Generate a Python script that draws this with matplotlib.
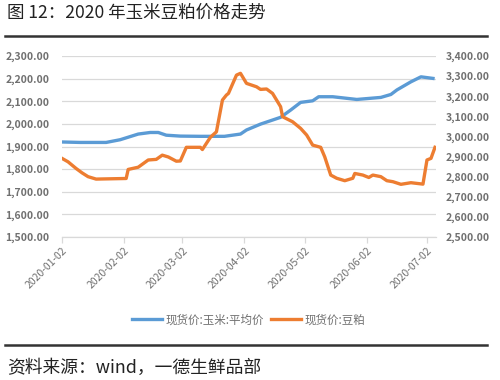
import matplotlib
matplotlib.use("Agg")
import matplotlib.pyplot as plt
import matplotlib.dates as mdates
import pandas as pd
import numpy as np

plt.rcParams['font.family'] = ['Noto Sans CJK SC', 'DejaVu Sans']

corn_dates = ["2020-01-02", "2020-01-11", "2020-01-24", "2020-01-31", "2020-02-09", "2020-02-15",
              "2020-02-19", "2020-02-23", "2020-03-01", "2020-03-11", "2020-03-23", "2020-03-31",
              "2020-04-03", "2020-04-10", "2020-04-16", "2020-04-20", "2020-04-25", "2020-04-30",
              "2020-05-06", "2020-05-09", "2020-05-16", "2020-05-28", "2020-06-09", "2020-06-14",
              "2020-06-17", "2020-06-24", "2020-06-29", "2020-07-05"]
corn_values = [1920, 1918, 1918, 1930, 1955, 1962, 1962, 1950, 1946, 1945, 1945, 1955,
               1973, 1999, 2017, 2029, 2061, 2095, 2102, 2120, 2120, 2108, 2117, 2130,
               2150, 2186, 2208, 2201]

meal_dates = ["2020-01-02", "2020-01-05", "2020-01-09", "2020-01-12", "2020-01-15", "2020-01-19",
              "2020-02-03", "2020-02-04", "2020-02-09", "2020-02-14", "2020-02-18", "2020-02-21",
              "2020-02-24", "2020-02-28", "2020-03-01", "2020-03-04", "2020-03-11", "2020-03-12",
              "2020-03-16", "2020-03-19", "2020-03-22", "2020-03-24", "2020-03-25", "2020-03-29",
              "2020-03-31", "2020-04-03", "2020-04-08", "2020-04-10", "2020-04-13", "2020-04-16",
              "2020-04-20", "2020-04-21", "2020-04-26", "2020-04-30", "2020-05-03", "2020-05-06",
              "2020-05-10", "2020-05-12", "2020-05-15", "2020-05-18", "2020-05-22", "2020-05-26",
              "2020-05-27", "2020-05-31", "2020-06-03", "2020-06-05", "2020-06-09", "2020-06-12",
              "2020-06-15", "2020-06-19", "2020-06-24", "2020-06-30", "2020-07-02", "2020-07-04",
              "2020-07-06"]
meal_values = [2891, 2874, 2841, 2819, 2800, 2788,
               2791, 2836, 2847, 2883, 2886, 2907,
               2898, 2877, 2878, 2946, 2946, 2935,
               2996, 3023, 3181, 3206, 3214, 3305,
               3314, 3264, 3247, 3234, 3236, 3214,
               3148, 3098, 3073, 3040, 3007, 2957,
               2946, 2899, 2808, 2792, 2780, 2792,
               2816, 2808, 2796, 2808, 2800, 2780,
               2775, 2762, 2770, 2763, 2883, 2891,
               2946]

tick_dates = ["2020-01-02", "2020-02-02", "2020-03-02", "2020-04-02", "2020-05-02", "2020-06-02", "2020-07-02"]
left_ticks = [1500, 1600, 1700, 1800, 1900, 2000, 2100, 2200, 2300]
right_ticks = [2500, 2600, 2700, 2800, 2900, 3000, 3100, 3200, 3300, 3400]

title = "图 12：2020 年玉米豆粕价格走势"
source = "资料来源：wind，一德生鲜品部"
corn_label = "现货价:玉米:平均价"
meal_label = "现货价:豆粕"

blue = "#5b9bd5"
orange = "#ed7d31"
tick_color = "#707070"
grid_color = "#d9d9d9"

fig = plt.figure(figsize=(5, 3.8), dpi=100)
ax = fig.add_axes([0.124, 0.3763, 0.748, 0.4763])
ax2 = ax.twinx()

cd = pd.to_datetime(corn_dates)
md = pd.to_datetime(meal_dates)
l1, = ax.plot(cd, corn_values, color=blue, lw=2.4, solid_joinstyle='round', zorder=3)
l2, = ax2.plot(md, meal_values, color=orange, lw=2.4, solid_joinstyle='round', zorder=3)

x0 = pd.Timestamp("2020-01-02")
ax.set_xlim(x0, x0 + pd.Timedelta(days=186.5))
ax.set_ylim(left_ticks[0], left_ticks[-1])
ax2.set_ylim(right_ticks[0], right_ticks[-1])
ax.set_yticks(left_ticks)
ax2.set_yticks(right_ticks)
ax.set_yticklabels([f"{v:,.2f}" for v in left_ticks])
ax2.set_yticklabels([f"{v:,.2f}" for v in right_ticks])
ax.set_xticks(pd.to_datetime(tick_dates))
ax.xaxis.set_major_formatter(mdates.DateFormatter("%Y-%m-%d"))

ax.grid(axis='y', color=grid_color, lw=0.9)
ax.set_axisbelow(True)
for a in (ax, ax2):
    for s in ('top', 'left', 'right', 'bottom'):
        a.spines[s].set_visible(False)
ax.spines['bottom'].set_visible(True)
ax.spines['bottom'].set_color(grid_color)
ax.spines['bottom'].set_linewidth(0.9)

ax.tick_params(axis='y', length=0, pad=9, labelsize=7.5, labelcolor=tick_color)
ax2.tick_params(axis='y', length=0, pad=7, labelsize=7.5, labelcolor=tick_color)
ax.tick_params(axis='x', length=4, color=grid_color, width=0.9, pad=2, labelsize=7.5, labelcolor=tick_color)
for lab in ax.get_xticklabels():
    lab.set_rotation(45)
    lab.set_ha('right')
    lab.set_va('top')
    lab.set_rotation_mode('anchor')
for lab in ax.get_yticklabels() + ax2.get_yticklabels():
    lab.set_fontweight('bold')

fig.legend([l1, l2], [corn_label, meal_label], loc='center', bbox_to_anchor=(0.497, 0.158),
           ncol=2, frameon=False, fontsize=8.3, handlelength=2.6, handletextpad=0.3,
           columnspacing=0.6, labelcolor=tick_color)

fig.text(0.014, 0.966, title, fontsize=12.6, color='#222222', va='center', ha='left')
fig.add_artist(plt.Line2D([0.01, 0.974], [0.904, 0.904], color='#333333', lw=1.8))
fig.add_artist(plt.Line2D([0.01, 0.974], [0.092, 0.092], color='#333333', lw=1.8))
fig.text(0.014, 0.032, source, fontsize=12.8, color='#222222', va='center', ha='left')

fig.savefig("out.png", dpi=100)
